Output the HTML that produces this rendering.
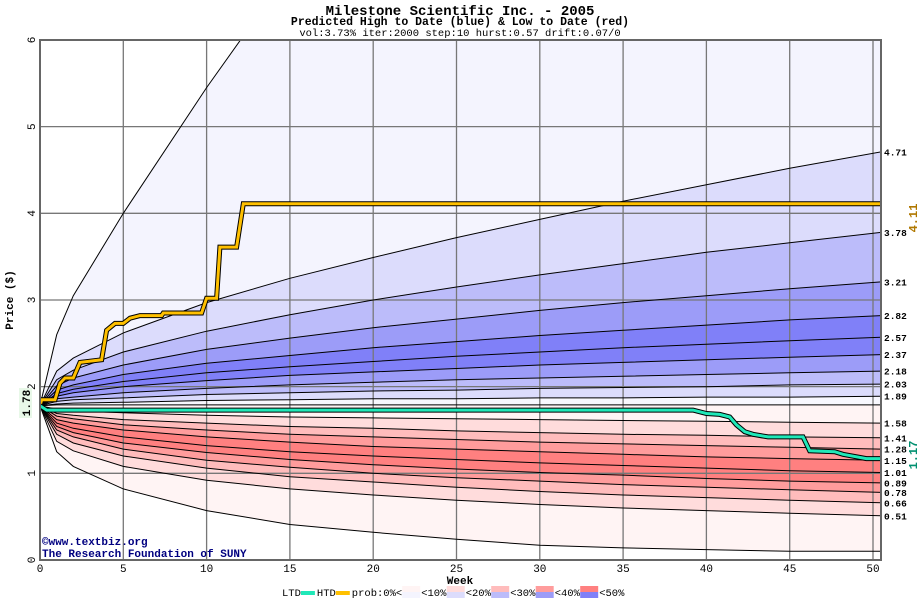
<!DOCTYPE html>
<html><head><meta charset="utf-8"><style>
body{margin:0;background:#fff;width:920px;height:600px;overflow:hidden;font-family:"Liberation Mono",monospace}
svg{display:block}
</style></head><body>
<svg id="chart" width="920" height="600" xmlns="http://www.w3.org/2000/svg">
<text x="460" y="15" text-anchor="middle" font-family="Liberation Mono" font-weight="bold" font-size="14">Milestone Scientific Inc. - 2005</text>
<text x="460" y="25" text-anchor="middle" font-family="Liberation Mono" font-weight="bold" font-size="11.5">Predicted High to Date (blue) &amp;  Low to Date (red)</text>
<text x="460" y="36" text-anchor="middle" font-family="Liberation Mono" font-size="10.5">vol:3.73% iter:2000 step:10 hurst:0.57 drift:0.07/0</text>
<defs><clipPath id="pc"><rect x="40" y="40" width="841" height="520"/></clipPath></defs>
<g id="bands" clip-path="url(#pc)"></g>
<g id="grid"></g>
<g id="lines" clip-path="url(#pc)"></g>
<g id="axes"></g>
<rect x="40" y="40" width="841" height="520" fill="none" stroke="#666" stroke-width="2"/>
<text transform="translate(13,300) rotate(-90)" text-anchor="middle" font-family="Liberation Mono" font-weight="bold" font-size="11">Price ($)</text>
<text x="460" y="584" text-anchor="middle" font-family="Liberation Mono" font-weight="bold" font-size="11">Week</text>
<text x="42" y="545" fill="#000080" font-family="Liberation Mono" font-weight="bold" font-size="11">©www.textbiz.org</text>
<text x="42" y="557" fill="#000080" font-family="Liberation Mono" font-weight="bold" font-size="11">The Research Foundation of SUNY</text>
<rect x="19" y="388" width="13" height="30" fill="#e8f8e8"/>
<text transform="translate(30,403) rotate(-90)" text-anchor="middle" font-family="Liberation Mono" font-weight="bold" font-size="11">1.78</text>
<text transform="translate(917,218) rotate(-90)" text-anchor="middle" fill="#b07800" font-family="Liberation Mono" font-weight="bold" font-size="12">4.11</text>
<text transform="translate(917,455) rotate(-90)" text-anchor="middle" fill="#009070" font-family="Liberation Mono" font-weight="bold" font-size="12">1.17</text>
<g id="legend" font-family="Liberation Mono" font-size="10.5"></g>
</svg>
<script>
const weeks=[0,1,2,5,10,15,20,25,30,35,40,45,50.5];
const outerTop=[1.78,2.6,3.05,4.0,5.45,6.8,7.6,8.3,9,9.6,10,10.5,11];
const q471=[1.78,2.18,2.33,2.62,2.97,3.25,3.49,3.72,3.93,4.14,4.33,4.52,4.71];
const q378=[1.78,2.08,2.19,2.40,2.64,2.83,3.00,3.15,3.29,3.42,3.55,3.66,3.78];
const q321=[1.78,2.01,2.10,2.25,2.43,2.56,2.68,2.78,2.88,2.97,3.05,3.13,3.21];
const q282=[1.78,1.96,2.02,2.14,2.27,2.36,2.45,2.52,2.59,2.65,2.71,2.77,2.82];
const q257=[1.78,1.92,1.97,2.06,2.16,2.23,2.29,2.35,2.40,2.45,2.49,2.53,2.57];
const q237=[1.78,1.89,1.93,2.00,2.07,2.13,2.17,2.21,2.25,2.28,2.31,2.34,2.37];
const q218=[1.78,1.86,1.88,1.93,1.98,2.02,2.05,2.08,2.10,2.12,2.14,2.16,2.18];
const q203=[1.78,1.83,1.85,1.87,1.91,1.93,1.95,1.96,1.98,1.99,2.00,2.02,2.03];
const q189=[1.78,1.80,1.81,1.82,1.84,1.85,1.86,1.86,1.87,1.87,1.88,1.88,1.89];
const qMid=[1.78,1.79,1.79,1.79,1.79,1.79,1.79,1.79,1.79,1.79,1.79,1.79,1.79];
const q158=[1.78,1.74,1.72,1.70,1.67,1.65,1.64,1.63,1.62,1.61,1.60,1.59,1.58];
const q141=[1.78,1.69,1.67,1.62,1.58,1.54,1.52,1.49,1.47,1.45,1.44,1.42,1.41];
const q128=[1.78,1.66,1.63,1.56,1.50,1.45,1.42,1.39,1.36,1.34,1.32,1.30,1.28];
const q115=[1.78,1.62,1.58,1.50,1.42,1.36,1.31,1.28,1.25,1.22,1.19,1.17,1.15];
const q101=[1.78,1.58,1.52,1.42,1.32,1.25,1.20,1.16,1.12,1.09,1.06,1.03,1.01];
const q089=[1.78,1.54,1.47,1.35,1.24,1.16,1.10,1.05,1.01,0.98,0.94,0.91,0.89];
const q078=[1.78,1.50,1.42,1.28,1.15,1.07,1.00,0.95,0.91,0.87,0.84,0.81,0.78];
const q066=[1.78,1.45,1.35,1.20,1.06,0.96,0.90,0.84,0.79,0.75,0.72,0.69,0.66];
const q051=[1.78,1.37,1.26,1.08,0.92,0.82,0.75,0.69,0.64,0.60,0.57,0.54,0.51];
const outerBottom=[1.78,1.25,1.08,0.82,0.57,0.41,0.32,0.24,0.17,0.14,0.12,0.10,0.10];
const endLabels=["4.71","3.78","3.21","2.82","2.57","2.37","2.18","2.03","1.89","1.58","1.41","1.28","1.15","1.01","0.89","0.78","0.66","0.51"];
const htdWeeks=[0,0.1,0.9,1.2,1.5,2.0,2.4,3.7,4.0,4.5,5.0,5.4,6.0,7.3,7.4,9.7,10.0,10.6,10.8,11.8,12.2,50.5];
const htdValues=[1.78,1.85,1.85,2.04,2.10,2.10,2.28,2.31,2.65,2.73,2.73,2.79,2.82,2.82,2.85,2.85,3.02,3.02,3.61,3.61,4.11,4.11];
const ltdWeeks=[0,0.4,39.2,40.0,40.8,41.4,41.8,42.3,42.8,43.7,45.8,46.2,47.7,48.2,49.6,50.5];
const ltdValues=[1.78,1.73,1.73,1.69,1.68,1.65,1.56,1.48,1.45,1.42,1.42,1.26,1.25,1.22,1.17,1.17];
const xTicks=[0,5,10,15,20,25,30,35,40,45,50];
const yTicks=[0,1,2,3,4,5,6];

const X=w=>40+w*16.66, Y=v=>560-v*86.67;
const NS="http://www.w3.org/2000/svg";
function mk(t,a,p){const e=document.createElementNS(NS,t);for(const k in a)e.setAttribute(k,a[k]);p.appendChild(e);return e;}
const curves=[outerTop,q471,q378,q321,q282,q257,q237,q218,q203,q189,qMid,q158,q141,q128,q115,q101,q089,q078,q066,q051,outerBottom];
const fills=["#f4f4fe","#dcdcfc","#bcbcfa","#9c9cf8","#8080f8","#8080f8","#9c9cf8","#bcbcfa","#dcdcfc","#f8f8fe","#fff4f4","#ffdcdc","#ffbcbc","#ff9c9c","#ff8080","#ff8080","#ff9c9c","#ffbcbc","#ffdcdc","#fff4f4"];
const bands=document.getElementById('bands'),lines=document.getElementById('lines'),grid=document.getElementById('grid'),axes=document.getElementById('axes');
const pts=c=>weeks.map((w,i)=>X(w).toFixed(1)+','+Y(c[i]).toFixed(1));
for(let i=0;i<curves.length-1;i++){
  const p=pts(curves[i]).concat(pts(curves[i+1]).reverse());
  const el=mk('polygon',{points:p.join(' '),fill:fills[i]},bands);
  
  
}
xTicks.forEach(t=>{if(t>0){const l=mk('line',{x1:X(t),x2:X(t),y1:40,y2:560,stroke:'#777','stroke-width':1.3},grid);
  
  }
  const tx=mk('text',{x:X(t),y:572,'text-anchor':'middle','font-size':11,'font-family':'Liberation Mono'},axes);tx.textContent=t;
  
  
});
yTicks.forEach(t=>{if(t>0&&t<6){const l=mk('line',{x1:40,x2:881,y1:Y(t),y2:Y(t),stroke:'#777','stroke-width':1.3},grid);
  
  }
  const tx=mk('text',{transform:`translate(35,${Y(t)}) rotate(-90)`,'text-anchor':'middle','font-size':11,'font-family':'Liberation Mono'},axes);tx.textContent=t;
  
  
});
curves.forEach((c,i)=>{if(i===10)return;const l=mk('polyline',{points:pts(c).join(' '),fill:'none',stroke:'#000','stroke-width':1},lines);
  
  });
const midL=mk('polyline',{points:pts(qMid).join(' '),fill:'none',stroke:'#000','stroke-width':1},lines);


const labelCurves=curves.slice(1,10).concat(curves.slice(11,20));
labelCurves.forEach((c,i)=>{const tx=mk('text',{x:884,y:Y(c[c.length-1])+3.5,'font-size':9.5,'font-weight':'bold','font-family':'Liberation Mono'},axes);tx.textContent=endLabels[i];
  
  });
function step(ws,vs){return ws.map((w,i)=>X(w).toFixed(1)+','+Y(vs[i]).toFixed(1)).join(' ');}
const h1=mk('polyline',{points:step(htdWeeks,htdValues),fill:'none',stroke:'#000','stroke-width':5},lines);


const h2=mk('polyline',{points:step(htdWeeks,htdValues),fill:'none',stroke:'#ffc000','stroke-width':3},lines);


const l1=mk('polyline',{points:step(ltdWeeks,ltdValues),fill:'none',stroke:'#000','stroke-width':5},lines);


const l2=mk('polyline',{points:step(ltdWeeks,ltdValues),fill:'none',stroke:'#20e8b8','stroke-width':3},lines);


// legend
const lg=document.getElementById('legend');
let x=282;const ly=596;
function txt(s){const t=mk('text',{x:x,y:ly},lg);t.textContent=s;x+=s.length*6.3;}
function sw(c,h){const r=mk('rect',{x:x,y:ly-(h?5:9),width:14,height:h?4:8,fill:c},lg);x+=16;}
txt('LTD');sw('#20e8b8',1);txt('HTD');sw('#ffc000',1);txt('prob:0%<');
const pinks=['#fff4f4','#ffdcdc','#ffbcbc','#ff9c9c','#ff8080'],blues=['#f4f4fe','#dcdcfc','#bcbcfa','#9c9cf8','#8080f8'],labs=['<10%<','<20%<','<30%<','<40%<','<50%'];
for(let i=0;i<5;i++){const r1=mk('rect',{x:x,y:ly-10,width:18,height:6,fill:pinks[i]},lg);
const r2=mk('rect',{x:x,y:ly-4,width:18,height:6,fill:blues[i]},lg);x+=19;txt(labs[i].slice(i===4?0:0));x-=6;}
</script>
</body></html>
